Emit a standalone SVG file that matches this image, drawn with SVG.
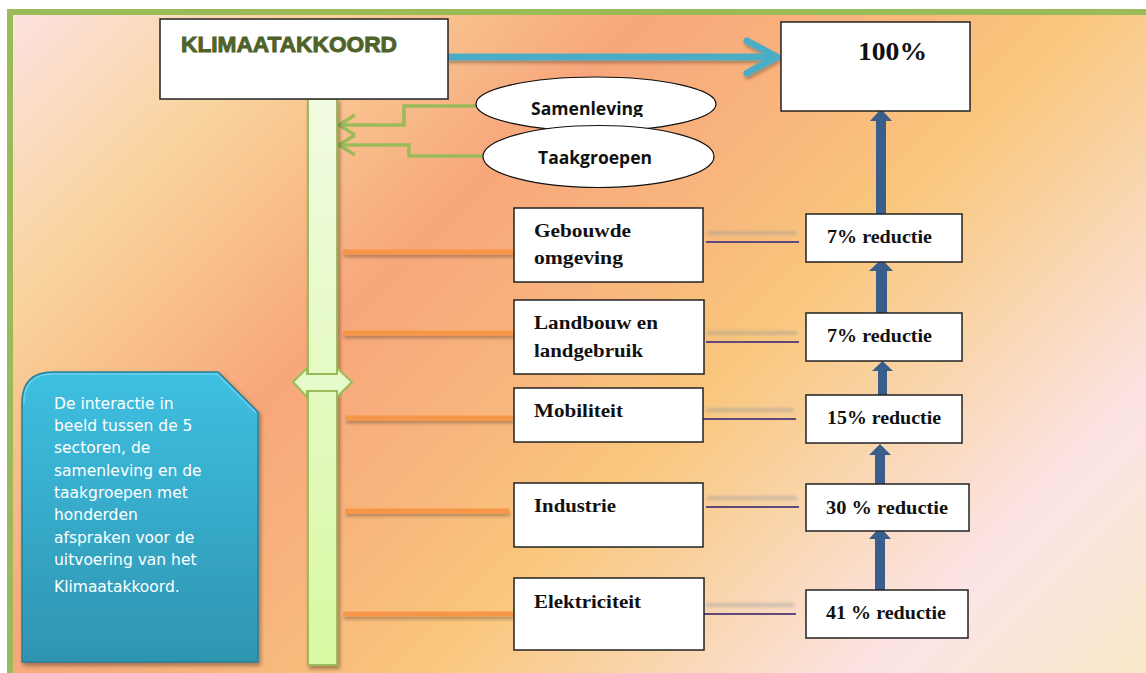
<svg xmlns="http://www.w3.org/2000/svg" width="1146" height="673" viewBox="0 0 1146 673">
  <defs>
    <linearGradient id="bg" gradientUnits="userSpaceOnUse" x1="0" y1="0" x2="910" y2="910">
      <stop offset="0" stop-color="#fde3e6"/>
      <stop offset="0.18" stop-color="#f9d39b"/>
      <stop offset="0.36" stop-color="#f7a77b"/>
      <stop offset="0.48" stop-color="#f8b47c"/>
      <stop offset="0.6" stop-color="#f9c67c"/>
      <stop offset="0.7" stop-color="#f9d3a4"/>
      <stop offset="0.85" stop-color="#fce4e6"/>
      <stop offset="1" stop-color="#fae9c9"/>
    </linearGradient>
    <linearGradient id="barGrad" x1="0" y1="0" x2="0" y2="1">
      <stop offset="0" stop-color="#f1fbe2"/>
      <stop offset="1" stop-color="#d8f9a2"/>
    </linearGradient>
    <linearGradient id="infoGrad" x1="0" y1="0" x2="0" y2="1">
      <stop offset="0" stop-color="#3ec0e2"/>
      <stop offset="1" stop-color="#2f94b0"/>
    </linearGradient>
    <filter id="shadow" x="-10%" y="-10%" width="130%" height="130%">
      <feDropShadow dx="2" dy="3" stdDeviation="2" flood-color="#000" flood-opacity="0.35"/>
    </filter>
    <filter id="lineShadow" filterUnits="userSpaceOnUse" x="0" y="0" width="1146" height="673">
      <feDropShadow dx="1" dy="3" stdDeviation="1.5" flood-color="#000" flood-opacity="0.25"/>
    </filter>
    <filter id="blur" filterUnits="userSpaceOnUse" x="0" y="0" width="1146" height="673">
      <feGaussianBlur stdDeviation="1.8"/>
    </filter>
    <clipPath id="samClip">
      <rect x="470" y="70" width="260" height="47"/>
    </clipPath>
    <style>
      .box { fill: #ffffff; stroke: #222222; stroke-width: 1.5; }
      .sector { font-family: "Liberation Serif", "Times New Roman", serif; font-weight: bold; font-size: 18.5px; fill: #111111; }
      .red { font-family: "Liberation Serif", "Times New Roman", serif; font-weight: bold; font-size: 18.5px; fill: #111111; }
      .ell { fill: #ffffff; stroke: #111111; stroke-width: 1.2; }
      .ellText { font-family: "Open Sans", "Liberation Sans", sans-serif; font-weight: bold; font-size: 17px; fill: #111111; }
      .orange { stroke: #f79646; stroke-width: 5; fill: none; filter: url(#lineShadow); }
      .purple { stroke: #5f497a; stroke-width: 2; fill: none; }
      .ghost { stroke: #9a9a9a; stroke-width: 4; opacity: 0.45; filter: url(#blur); }
      .green { stroke: #9bbb59; stroke-width: 3.5; fill: none; }
      .upArrow { fill: #3a5e8c; }
      .info { font-family: "DejaVu Sans", Verdana, sans-serif; font-size: 15.5px; fill: #ffffff; }
    </style>
  </defs>

  <!-- background -->
  <rect x="0" y="0" width="1146" height="673" fill="url(#bg)"/>
  <rect x="0" y="0" width="1146" height="9" fill="#ffffff"/>
  <rect x="0" y="0" width="7" height="673" fill="#ffffff"/>
  <rect x="10" y="12" width="1150" height="700" fill="none" stroke="#9bbb59" stroke-width="6"/>

  <!-- connectors -->
  <g id="connectors">
    <!-- blue arrow Klimaatakkoord -> 100% -->
    <g filter="url(#lineShadow)">
      <line x1="448" y1="57" x2="774" y2="57" stroke="#4bacc6" stroke-width="7"/>
      <polyline points="747,41 777,57 747,73" fill="none" stroke="#4bacc6" stroke-width="7" stroke-linecap="round" stroke-linejoin="round"/>
    </g>
    <!-- green arrows to bar -->
    <path class="green" d="M476,106 H404 V125 H340"/>
    <polyline class="green" points="355,115 339,125 355,135"/>
    <path class="green" d="M484,156 H409 V145 H340"/>
    <polyline class="green" points="355,135 339,145 355,155"/>
    <!-- orange lines -->
    <line class="orange" x1="343" y1="252" x2="513" y2="252"/>
    <line class="orange" x1="343" y1="333" x2="513" y2="333"/>
    <line class="orange" x1="345" y1="418" x2="513" y2="418"/>
    <line class="orange" x1="345" y1="511" x2="509" y2="511"/>
    <line class="orange" x1="343" y1="614" x2="513" y2="614"/>
    <!-- ghost lines -->
    <line class="ghost" x1="707" y1="233" x2="797" y2="233"/>
    <line class="ghost" x1="707" y1="333" x2="797" y2="333"/>
    <line class="ghost" x1="706" y1="410" x2="794" y2="410"/>
    <line class="ghost" x1="707" y1="498" x2="797" y2="498"/>
    <line class="ghost" x1="706" y1="605" x2="794" y2="605"/>
    <!-- purple lines -->
    <line class="purple" x1="706" y1="242" x2="799" y2="242"/>
    <line class="purple" x1="706" y1="342" x2="799" y2="342"/>
    <line class="purple" x1="703" y1="419" x2="796" y2="419"/>
    <line class="purple" x1="706" y1="507" x2="799" y2="507"/>
    <line class="purple" x1="703" y1="614" x2="796" y2="614"/>
    <!-- blue up arrows -->
    <path class="upArrow" d="M876,214 V121 H870 L881,109 L892,121 H886 V214 Z"/>
    <path class="upArrow" d="M876,313 V271 H869 L881.5,259 L893,271 H887 V313 Z"/>
    <path class="upArrow" d="M878,395 V371 H872 L882.5,361 L893,371 H887 V395 Z"/>
    <path class="upArrow" d="M875,484 V455 H869 L880,444 L891,455 H885 V484 Z"/>
    <path class="upArrow" d="M875,590 V539 H869 L880,527 L891,539 H885 V590 Z"/>
  </g>

  <!-- vertical bar with double arrow -->
  <g id="bar">
    <rect x="308" y="99" width="29" height="566" fill="url(#barGrad)" stroke="#9bbb59" stroke-width="2" filter="url(#shadow)"/>
    <polygon points="293,382 307,368 307,374 337,374 337,368 352,382 337,397 337,391 307,391 307,397" fill="#e6fbc9" stroke="#9bbb59" stroke-width="2" stroke-linejoin="miter"/>
    <rect x="309" y="375" width="27" height="15" fill="#e6fbc9"/>
  </g>

  <!-- Klimaatakkoord -->
  <g id="klimaatakkoord">
    <rect class="box" x="160" y="19" width="288" height="80"/>
    <text x="181" y="52" font-family="'Liberation Sans', Arial, sans-serif" font-weight="bold" font-size="22" fill="#4f6228" stroke="#4f6228" stroke-width="0.9" textLength="216" lengthAdjust="spacingAndGlyphs">KLIMAATAKKOORD</text>
  </g>

  <!-- 100% -->
  <g id="node-100">
    <rect class="box" x="781" y="22" width="189" height="89"/>
    <text x="858" y="60" font-family="'Liberation Serif', 'Times New Roman', serif" font-weight="bold" font-size="26" fill="#111111" textLength="69" lengthAdjust="spacingAndGlyphs">100%</text>
  </g>

  <!-- ellipses -->
  <g id="samenleving">
    <ellipse class="ell" cx="596" cy="104" rx="120" ry="27"/>
    <text class="ellText" x="531" y="115" textLength="112" lengthAdjust="spacingAndGlyphs" clip-path="url(#samClip)">Samenleving</text>
  </g>
  <g id="taakgroepen">
    <ellipse class="ell" cx="598.5" cy="156.5" rx="115.5" ry="31"/>
    <text class="ellText" x="538" y="164" textLength="114" lengthAdjust="spacingAndGlyphs">Taakgroepen</text>
  </g>

  <!-- sectors -->
  <g id="gebouwde-omgeving">
    <rect class="box" x="514" y="208" width="189" height="74"/>
    <text class="sector" x="534" y="237" textLength="97" lengthAdjust="spacingAndGlyphs">Gebouwde</text>
    <text class="sector" x="534" y="264" textLength="89" lengthAdjust="spacingAndGlyphs">omgeving</text>
  </g>
  <g id="landbouw">
    <rect class="box" x="514" y="300" width="190" height="74"/>
    <text class="sector" x="534" y="329" textLength="124" lengthAdjust="spacingAndGlyphs">Landbouw en</text>
    <text class="sector" x="534" y="357" textLength="109" lengthAdjust="spacingAndGlyphs">landgebruik</text>
  </g>
  <g id="mobiliteit">
    <rect class="box" x="514" y="388" width="189" height="54"/>
    <text class="sector" x="534" y="417" textLength="89" lengthAdjust="spacingAndGlyphs">Mobiliteit</text>
  </g>
  <g id="industrie">
    <rect class="box" x="514" y="483" width="189" height="64"/>
    <text class="sector" x="534" y="512" textLength="82" lengthAdjust="spacingAndGlyphs">Industrie</text>
  </g>
  <g id="elektriciteit">
    <rect class="box" x="514" y="578" width="190" height="72"/>
    <text class="sector" x="534" y="608" textLength="107" lengthAdjust="spacingAndGlyphs">Elektriciteit</text>
  </g>

  <!-- reductions -->
  <g id="red-gebouwde">
    <rect class="box" x="806" y="214" width="156" height="48"/>
    <text class="red" x="827" y="243" textLength="105" lengthAdjust="spacingAndGlyphs">7% reductie</text>
  </g>
  <g id="red-landbouw">
    <rect class="box" x="806" y="313" width="156" height="48"/>
    <text class="red" x="827" y="342" textLength="105" lengthAdjust="spacingAndGlyphs">7% reductie</text>
  </g>
  <g id="red-mobiliteit">
    <rect class="box" x="806" y="395" width="156" height="48"/>
    <text class="red" x="827" y="424" textLength="114" lengthAdjust="spacingAndGlyphs">15% reductie</text>
  </g>
  <g id="red-industrie">
    <rect class="box" x="806" y="484" width="163" height="47"/>
    <text class="red" x="826" y="514" textLength="122" lengthAdjust="spacingAndGlyphs">30 % reductie</text>
  </g>
  <g id="red-elektriciteit">
    <rect class="box" x="806" y="590" width="162" height="48"/>
    <text class="red" x="826" y="619" textLength="120" lengthAdjust="spacingAndGlyphs">41 % reductie</text>
  </g>

  <!-- info box -->
  <g id="info">
    <path d="M22,403 Q22,372 53,372 H218 L258,412 V662 H22 Z" fill="url(#infoGrad)" stroke="#2a7f98" stroke-width="1.5" filter="url(#shadow)"/>
    <path d="M24,403 Q24,374 53,374 H217 L256,413" fill="none" stroke="#7fd8ee" stroke-width="1.5" opacity="0.7"/>
    <text class="info" x="54" y="409">De interactie in</text>
    <text class="info" x="54" y="431">beeld tussen de 5</text>
    <text class="info" x="54" y="453">sectoren, de</text>
    <text class="info" x="54" y="476">samenleving en de</text>
    <text class="info" x="54" y="498">taakgroepen met</text>
    <text class="info" x="54" y="520">honderden</text>
    <text class="info" x="54" y="543">afspraken voor de</text>
    <text class="info" x="54" y="565">uitvoering van het</text>
    <text class="info" x="54" y="592">Klimaatakkoord.</text>
  </g>
</svg>
